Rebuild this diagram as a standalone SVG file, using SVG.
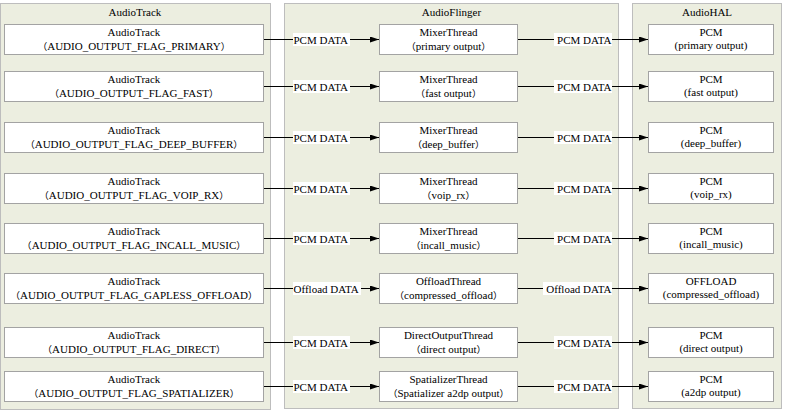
<svg xmlns="http://www.w3.org/2000/svg" width="786" height="411" viewBox="0 0 786 411">
<style>
.panel{fill:#ECEEE0;stroke:#BDBDBD;stroke-width:1}
.box{fill:#FFFFFF;stroke:#A3A3A3;stroke-width:1}
text{font-family:'Liberation Serif','Times New Roman',Times,serif;font-size:11px;fill:#000}
.p{font-family:'Noto Sans CJK SC','Noto Sans CJK JP',sans-serif;font-size:9.5px}
.c{text-anchor:middle}
.ls{text-anchor:start}
.le{text-anchor:end}
.lbg{fill:#FFFFFF}
.conn{stroke:#000;stroke-width:1;fill:none;marker-end:url(#arr)}
</style>
<defs>
<marker id="arr" viewBox="0 0 9 6" markerWidth="9" markerHeight="6" refX="9" refY="3" orient="auto" markerUnits="userSpaceOnUse">
<path d="M0,0 L9,3 L0,6 z" fill="#000"/>
</marker>
</defs>
<g id="panel-audiotrack">
<rect class="panel" x="0.5" y="3.5" width="270" height="406"/>
<text class="c" x="135" y="16">AudioTrack</text>
</g>
<g id="panel-audioflinger">
<rect class="panel" x="284.5" y="3.5" width="334" height="405"/>
<text class="c" x="451.5" y="16">AudioFlinger</text>
</g>
<g id="panel-audiohal">
<rect class="panel" x="632.5" y="3.5" width="149" height="405"/>
<text class="c" x="707" y="16">AudioHAL</text>
</g>

<g id="connectors">
<line class="conn" x1="264" y1="39.5" x2="379" y2="39.5"/>
<line class="conn" x1="518" y1="39.5" x2="648" y2="39.5"/>
<line class="conn" x1="264" y1="86.5" x2="379" y2="86.5"/>
<line class="conn" x1="518" y1="86.5" x2="648" y2="86.5"/>
<line class="conn" x1="264" y1="137.5" x2="379" y2="137.5"/>
<line class="conn" x1="518" y1="137.5" x2="648" y2="137.5"/>
<line class="conn" x1="264" y1="188.5" x2="379" y2="188.5"/>
<line class="conn" x1="518" y1="188.5" x2="648" y2="188.5"/>
<line class="conn" x1="264" y1="238.5" x2="379" y2="238.5"/>
<line class="conn" x1="518" y1="238.5" x2="648" y2="238.5"/>
<line class="conn" x1="264" y1="288.5" x2="379" y2="288.5"/>
<line class="conn" x1="518" y1="288.5" x2="648" y2="288.5"/>
<line class="conn" x1="264" y1="342.5" x2="379" y2="342.5"/>
<line class="conn" x1="518" y1="342.5" x2="648" y2="342.5"/>
<line class="conn" x1="264" y1="386.5" x2="379" y2="386.5"/>
<line class="conn" x1="518" y1="386.5" x2="648" y2="386.5"/>

<rect class="lbg" x="293" y="33" width="57" height="13"/><text class="ls" x="293.5" y="43.5">PCM DATA</text>
<rect class="lbg" x="554" y="33" width="58" height="13"/><text class="le" x="611.5" y="43.5">PCM DATA</text>
<rect class="lbg" x="293" y="80" width="57" height="13"/><text class="ls" x="293.5" y="90.5">PCM DATA</text>
<rect class="lbg" x="554" y="80" width="58" height="13"/><text class="le" x="611.5" y="90.5">PCM DATA</text>
<rect class="lbg" x="293" y="131" width="57" height="13"/><text class="ls" x="293.5" y="141.5">PCM DATA</text>
<rect class="lbg" x="554" y="131" width="58" height="13"/><text class="le" x="611.5" y="141.5">PCM DATA</text>
<rect class="lbg" x="293" y="182" width="57" height="13"/><text class="ls" x="293.5" y="192.5">PCM DATA</text>
<rect class="lbg" x="554" y="182" width="58" height="13"/><text class="le" x="611.5" y="192.5">PCM DATA</text>
<rect class="lbg" x="293" y="232" width="57" height="13"/><text class="ls" x="293.5" y="242.5">PCM DATA</text>
<rect class="lbg" x="554" y="232" width="58" height="13"/><text class="le" x="611.5" y="242.5">PCM DATA</text>
<rect class="lbg" x="293" y="282" width="68" height="13"/><text class="ls" x="293.5" y="292.5">Offload DATA</text>
<rect class="lbg" x="543" y="282" width="69" height="13"/><text class="le" x="611.5" y="292.5">Offload DATA</text>
<rect class="lbg" x="293" y="336" width="57" height="13"/><text class="ls" x="293.5" y="346.5">PCM DATA</text>
<rect class="lbg" x="554" y="336" width="58" height="13"/><text class="le" x="611.5" y="346.5">PCM DATA</text>
<rect class="lbg" x="293" y="380" width="57" height="13"/><text class="ls" x="293.5" y="390.5">PCM DATA</text>
<rect class="lbg" x="554" y="380" width="58" height="13"/><text class="le" x="611.5" y="390.5">PCM DATA</text>
</g>

<g id="at-primary"><rect class="box" x="4.5" y="24.5" width="259" height="30"/><text class="c" x="134" y="36">AudioTrack</text><text class="c" x="134" y="49.5"><tspan class="p">（</tspan>AUDIO_OUTPUT_FLAG_PRIMARY<tspan class="p">）</tspan></text></g>
<g id="at-fast"><rect class="box" x="4.5" y="71.5" width="259" height="30"/><text class="c" x="134" y="83">AudioTrack</text><text class="c" x="134" y="96.5"><tspan class="p">（</tspan>AUDIO_OUTPUT_FLAG_FAST<tspan class="p">）</tspan></text></g>
<g id="at-deep"><rect class="box" x="4.5" y="122.5" width="259" height="30"/><text class="c" x="134" y="134">AudioTrack</text><text class="c" x="134" y="147.5"><tspan class="p">（</tspan>AUDIO_OUTPUT_FLAG_DEEP_BUFFER<tspan class="p">）</tspan></text></g>
<g id="at-voip"><rect class="box" x="4.5" y="173.5" width="259" height="30"/><text class="c" x="134" y="185">AudioTrack</text><text class="c" x="134" y="198.5"><tspan class="p">（</tspan>AUDIO_OUTPUT_FLAG_VOIP_RX<tspan class="p">）</tspan></text></g>
<g id="at-incall"><rect class="box" x="4.5" y="223.5" width="259" height="30"/><text class="c" x="134" y="235">AudioTrack</text><text class="c" x="134" y="248.5"><tspan class="p">（</tspan>AUDIO_OUTPUT_FLAG_INCALL_MUSIC<tspan class="p">）</tspan></text></g>
<g id="at-offload"><rect class="box" x="4.5" y="273.5" width="259" height="30"/><text class="c" x="134" y="285">AudioTrack</text><text class="c" x="134" y="298.5"><tspan class="p">（</tspan>AUDIO_OUTPUT_FLAG_GAPLESS_OFFLOAD<tspan class="p">）</tspan></text></g>
<g id="at-direct"><rect class="box" x="4.5" y="327.5" width="259" height="30"/><text class="c" x="134" y="339">AudioTrack</text><text class="c" x="134" y="352.5"><tspan class="p">（</tspan>AUDIO_OUTPUT_FLAG_DIRECT<tspan class="p">）</tspan></text></g>
<g id="at-spatializer"><rect class="box" x="4.5" y="371.5" width="259" height="30"/><text class="c" x="134" y="383">AudioTrack</text><text class="c" x="134" y="396.5"><tspan class="p">（</tspan>AUDIO_OUTPUT_FLAG_SPATIALIZER<tspan class="p">）</tspan></text></g>

<g id="af-primary"><rect class="box" x="379.5" y="24.5" width="138" height="30"/><text class="c" x="448.5" y="36">MixerThread</text><text class="c" x="448.5" y="49.5"><tspan class="p">（</tspan>primary output<tspan class="p">）</tspan></text></g>
<g id="af-fast"><rect class="box" x="379.5" y="71.5" width="138" height="30"/><text class="c" x="448.5" y="83">MixerThread</text><text class="c" x="448.5" y="96.5"><tspan class="p">（</tspan>fast output<tspan class="p">）</tspan></text></g>
<g id="af-deep"><rect class="box" x="379.5" y="122.5" width="138" height="30"/><text class="c" x="448.5" y="134">MixerThread</text><text class="c" x="448.5" y="147.5"><tspan class="p">（</tspan>deep_buffer<tspan class="p">）</tspan></text></g>
<g id="af-voip"><rect class="box" x="379.5" y="173.5" width="138" height="30"/><text class="c" x="448.5" y="185">MixerThread</text><text class="c" x="448.5" y="198.5"><tspan class="p">（</tspan>voip_rx<tspan class="p">）</tspan></text></g>
<g id="af-incall"><rect class="box" x="379.5" y="223.5" width="138" height="30"/><text class="c" x="448.5" y="235">MixerThread</text><text class="c" x="448.5" y="248.5"><tspan class="p">（</tspan>incall_music<tspan class="p">）</tspan></text></g>
<g id="af-offload"><rect class="box" x="379.5" y="273.5" width="138" height="30"/><text class="c" x="448.5" y="285">OffloadThread</text><text class="c" x="448.5" y="298.5"><tspan class="p">（</tspan>compressed_offload<tspan class="p">）</tspan></text></g>
<g id="af-direct"><rect class="box" x="379.5" y="327.5" width="138" height="30"/><text class="c" x="448.5" y="339">DirectOutputThread</text><text class="c" x="448.5" y="352.5"><tspan class="p">（</tspan>direct output<tspan class="p">）</tspan></text></g>
<g id="af-spatializer"><rect class="box" x="379.5" y="371.5" width="138" height="30"/><text class="c" x="448.5" y="383">SpatializerThread</text><text class="c" x="448.5" y="396.5"><tspan class="p">（</tspan>Spatializer a2dp output<tspan class="p">）</tspan></text></g>

<g id="hal-primary"><rect class="box" x="648.5" y="24.5" width="125" height="30"/><text class="c" x="711" y="36">PCM</text><text class="c" x="711" y="49">(primary output)</text></g>
<g id="hal-fast"><rect class="box" x="648.5" y="71.5" width="125" height="30"/><text class="c" x="711" y="83">PCM</text><text class="c" x="711" y="96">(fast output)</text></g>
<g id="hal-deep"><rect class="box" x="648.5" y="122.5" width="125" height="30"/><text class="c" x="711" y="134">PCM</text><text class="c" x="711" y="147">(deep_buffer)</text></g>
<g id="hal-voip"><rect class="box" x="648.5" y="173.5" width="125" height="30"/><text class="c" x="711" y="185">PCM</text><text class="c" x="711" y="198">(voip_rx)</text></g>
<g id="hal-incall"><rect class="box" x="648.5" y="223.5" width="125" height="30"/><text class="c" x="711" y="235">PCM</text><text class="c" x="711" y="248">(incall_music)</text></g>
<g id="hal-offload"><rect class="box" x="648.5" y="273.5" width="125" height="30"/><text class="c" x="711" y="285">OFFLOAD</text><text class="c" x="711" y="298">(compressed_offload)</text></g>
<g id="hal-direct"><rect class="box" x="648.5" y="327.5" width="125" height="30"/><text class="c" x="711" y="339">PCM</text><text class="c" x="711" y="352">(direct output)</text></g>
<g id="hal-a2dp"><rect class="box" x="648.5" y="371.5" width="125" height="30"/><text class="c" x="711" y="383">PCM</text><text class="c" x="711" y="396">(a2dp output)</text></g>
</svg>
